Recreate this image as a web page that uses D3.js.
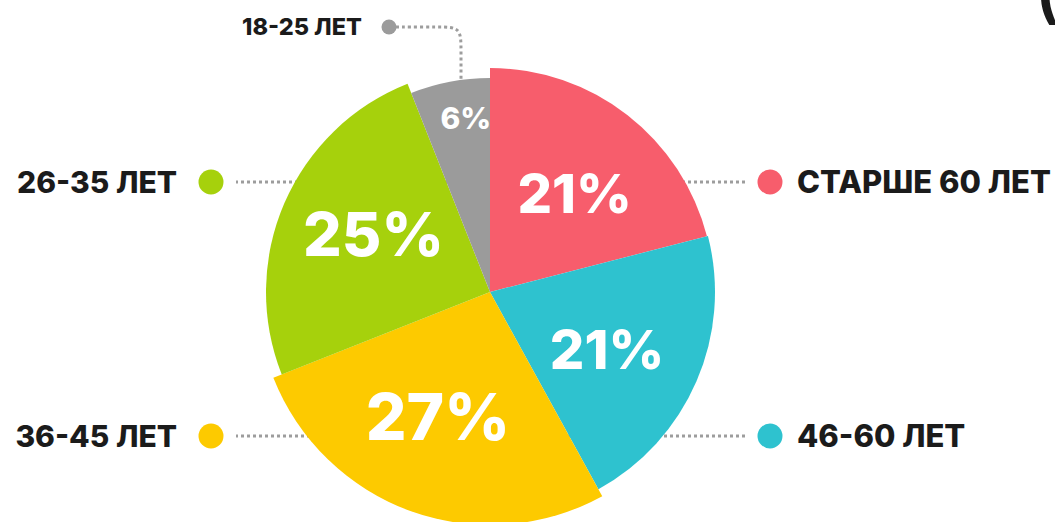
<!DOCTYPE html>
<html lang="ru">
<head>
<meta charset="UTF-8">
<title>Возраст</title>
<script src="https://d3js.org/d3.v7.min.js"></script>
<style>
  body { margin: 0; background: #fff; }
  svg text { font-family: Inter, "Noto Sans", sans-serif; font-weight: 800; }
  .legend text { fill: #1b1b1b; }
  .pct { fill: #fff; }
  .leader { fill: none; stroke: #9d9d9d; stroke-width: 3; stroke-dasharray: 3 3; }
</style>
</head>
<body>
<svg width="1055" height="522"></svg>
<script>
// data, clockwise from 12 o'clock
const groups = ["СТАРШЕ 60 ЛЕТ", "46-60 ЛЕТ", "36-45 ЛЕТ", "26-35 ЛЕТ", "18-25 ЛЕТ"];
const shares = [21, 21, 27, 25, 6];
const colors = ["#f75d6c", "#2ec2cf", "#fdca00", "#a6d10c", "#9b9b9b"];

const svg = d3.select("svg");
const cx = 490, cy = 292;

// slices have slightly different radii in the original
const radius = {"СТАРШЕ 60 ЛЕТ": 224, "46-60 ЛЕТ": 225, "36-45 ЛЕТ": 233, "26-35 ЛЕТ": 224, "18-25 ЛЕТ": 214};
// where each legend item sits: side + row
const legendPos = {
  "СТАРШЕ 60 ЛЕТ": {side: "right", y: 182},
  "46-60 ЛЕТ": {side: "right", y: 436},
  "36-45 ЛЕТ": {side: "left", y: 436},
  "26-35 ЛЕТ": {side: "left", y: 182}
};

const data = groups.map((g, i) => ({group: g, share: shares[i], color: colors[i]}));
const pie = d3.pie().value(d => d.share).sort(null);
const arcs = pie(data);

const fontSize = d3.scaleLinear().domain([6, 27]).range([30, 64]);

// leader lines (behind pie)
const lines = svg.append("g");
const legend = svg.append("g").attr("class", "legend");

data.forEach(d => {
  const p = legendPos[d.group];
  if (!p) return;
  const right = p.side === "right";
  const dotX = right ? 770 : 211;
  lines.append("line").attr("class", "leader")
    .attr("x1", cx).attr("x2", right ? dotX - 24 : dotX + 25)
    .attr("y1", p.y).attr("y2", p.y);
  legend.append("circle").attr("cx", dotX).attr("cy", p.y).attr("r", 12.5).attr("fill", d.color);
  legend.append("text")
    .attr("x", right ? dotX + 27 : dotX - 34)
    .attr("y", p.y)
    .attr("dy", "0.36em")
    .attr("text-anchor", right ? "start" : "end")
    .attr("font-size", right ? 31 : 30)
    .text(d.group);
});

// small top label with curved leader
const young = data[4];
lines.append("path").attr("class", "leader")
  .attr("d", d3.line().curve(d3.curveBasis)([[396, 27], [440, 27], [461, 27], [461, 48], [461, 100]]));
legend.append("circle").attr("cx", 389).attr("cy", 27).attr("r", 7.5).attr("fill", young.color);
legend.append("text").attr("x", 362).attr("y", 27).attr("dy", "0.36em")
  .attr("text-anchor", "end").attr("font-size", 23.5).text(young.group);

// pie
const g = svg.append("g").attr("transform", `translate(${cx},${cy})`);
g.selectAll("path.slice")
  .data(arcs)
  .join("path")
  .attr("class", "slice")
  .attr("fill", d => d.data.color)
  .attr("d", d => d3.arc().innerRadius(0).outerRadius(radius[d.data.group])(d));

g.selectAll("text.pct")
  .data(arcs)
  .join("text")
  .attr("class", "pct")
  .attr("transform", d => {
    const r = radius[d.data.group];
    const k = d.data.share < 10 ? 0.82 : 0.58;
    // labels in the original sit a little clockwise of the slice middle
    const shift = 0.05;
    const c = d3.arc().innerRadius(r * k).outerRadius(r * k)
      .centroid({startAngle: d.startAngle + shift, endAngle: d.endAngle + shift});
    return `translate(${c})`;
  })
  .attr("text-anchor", "middle")
  .attr("dy", "0.36em")
  .attr("font-size", d => fontSize(d.data.share))
  .text(d => d.data.share + "%");

// cropped bracket of a title at the top right
svg.append("text").attr("x", 1035).attr("y", 16).attr("font-size", 66)
  .attr("fill", "#1b1b1b").style("font-weight", 600).text("(");
</script>
</body>
</html>
